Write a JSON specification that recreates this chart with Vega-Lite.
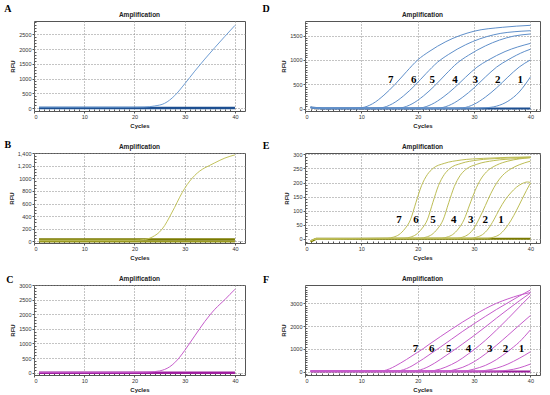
{
  "$schema": "https://vega.github.io/schema/vega-lite/v6.json",
  "background": "white",
  "padding": {"left": 3, "top": 3, "right": 4, "bottom": 1},
  "bounds": "flush",
  "columns": 2,
  "spacing": {"row": 42, "column": 60},
  "concat": [
    {
      "width": 211, "height": 90,
      "title": {"text": "Amplification", "offset": -14.5},
      "data": {"name": "A"},
      "resolve": {"axis": {"x": "independent", "y": "independent"}},
      "layer": [
        {"transform": [{"filter": "datum.curve === 'b'"}], "mark": {"type": "line", "color": "#1d4f91", "strokeWidth": 2.5},
         "encoding": {
           "x": {"field": "cycle", "type": "quantitative", "scale": {"domain": [0, 42], "nice": false, "zero": false}, "axis": {"values": [0, 10, 20, 30, 40], "title": "Cycles"}},
           "y": {"field": "rfu", "type": "quantitative", "scale": {"domain": [-100, 2950], "nice": false, "zero": false}, "axis": {"values": [0, 500, 1000, 1500, 2000, 2500], "title": "RFU", "format": "d"}},
           "detail": {"field": "curve"}}},
        {"transform": [{"filter": "datum.curve !== 'b'"}], "mark": {"type": "line", "interpolate": "monotone", "color": "#6f9dd3", "strokeWidth": 1},
         "encoding": {
           "x": {"field": "cycle", "type": "quantitative", "scale": {"domain": [0, 42], "nice": false, "zero": false}, "axis": null},
           "y": {"field": "rfu", "type": "quantitative", "scale": {"domain": [-100, 2950], "nice": false, "zero": false}, "axis": null},
           "detail": {"field": "curve"}}},
        {"data": {"name": "letters"}, "transform": [{"filter": "datum.panel === 'A'"}], "mark": {"type": "text", "font": "Liberation Serif", "fontWeight": "bold", "fontSize": 10, "color": "black"},
         "encoding": {
           "x": {"field": "cycle", "type": "quantitative", "scale": {"domain": [0, 42], "nice": false, "zero": false}, "axis": null},
           "y": {"field": "rfu", "type": "quantitative", "scale": {"domain": [-100, 2950], "nice": false, "zero": false}, "axis": null},
           "text": {"field": "panel"}}},
        {"transform": [{"filter": "datum.curve === 'b'"}], "mark": {"type": "line", "strokeOpacity": 0},
         "encoding": {
           "x": {"field": "cycle", "type": "quantitative", "scale": {"domain": [0, 42], "nice": false, "zero": false}, "axis": {"orient": "bottom", "values": [1,2,3,4,5,6,7,8,9,11,12,13,14,15,16,17,18,19,21,22,23,24,25,26,27,28,29,31,32,33,34,35,36,37,38,39,41], "labels": false, "grid": false, "tickSize": -2, "title": null}},
           "y": {"field": "rfu", "type": "quantitative", "scale": {"domain": [-100, 2950], "nice": false, "zero": false}, "axis": {"orient": "left", "values": [100,200,300,400,600,700,800,900,1100,1200,1300,1400,1600,1700,1800,1900,2100,2200,2300,2400,2600,2700,2800,2900], "labels": false, "grid": false, "tickSize": -2, "title": null}}}}
      ]
    },
    {
      "width": 235, "height": 90,
      "title": {"text": "Amplification", "offset": -14.5},
      "data": {"name": "D"},
      "resolve": {"axis": {"x": "independent", "y": "independent"}},
      "layer": [
        {"transform": [{"filter": "datum.curve === 'b'"}], "mark": {"type": "line", "color": "#1d4f91", "strokeWidth": 2},
         "encoding": {
           "x": {"field": "cycle", "type": "quantitative", "scale": {"domain": [0, 41.7], "nice": false, "zero": false}, "axis": {"values": [0, 10, 20, 30, 40], "title": "Cycles"}},
           "y": {"field": "rfu", "type": "quantitative", "scale": {"domain": [-50, 1800], "nice": false, "zero": false}, "axis": {"values": [0, 500, 1000, 1500], "title": "RFU", "format": "d"}},
           "detail": {"field": "curve"}}},
        {"transform": [{"filter": "datum.curve !== 'b'"}], "mark": {"type": "line", "interpolate": "monotone", "color": "#5f8fca", "strokeWidth": 1},
         "encoding": {
           "x": {"field": "cycle", "type": "quantitative", "scale": {"domain": [0, 41.7], "nice": false, "zero": false}, "axis": null},
           "y": {"field": "rfu", "type": "quantitative", "scale": {"domain": [-50, 1800], "nice": false, "zero": false}, "axis": null},
           "detail": {"field": "curve"}}},
        {"data": {"name": "labD"}, "mark": {"type": "text", "font": "Liberation Serif", "fontWeight": "bold", "fontSize": 11, "color": "black"},
         "encoding": {
           "x": {"field": "cycle", "type": "quantitative", "scale": {"domain": [0, 41.7], "nice": false, "zero": false}, "axis": null},
           "y": {"field": "rfu", "type": "quantitative", "scale": {"domain": [-50, 1800], "nice": false, "zero": false}, "axis": null},
           "text": {"field": "label"}}},
        {"data": {"name": "letters"}, "transform": [{"filter": "datum.panel === 'D'"}], "mark": {"type": "text", "font": "Liberation Serif", "fontWeight": "bold", "fontSize": 10, "color": "black"},
         "encoding": {
           "x": {"field": "cycle", "type": "quantitative", "scale": {"domain": [0, 41.7], "nice": false, "zero": false}, "axis": null},
           "y": {"field": "rfu", "type": "quantitative", "scale": {"domain": [-50, 1800], "nice": false, "zero": false}, "axis": null},
           "text": {"field": "panel"}}},
        {"transform": [{"filter": "datum.curve === 'b'"}], "mark": {"type": "line", "strokeOpacity": 0},
         "encoding": {
           "x": {"field": "cycle", "type": "quantitative", "scale": {"domain": [0, 41.7], "nice": false, "zero": false}, "axis": {"orient": "bottom", "values": [1,2,3,4,5,6,7,8,9,11,12,13,14,15,16,17,18,19,21,22,23,24,25,26,27,28,29,31,32,33,34,35,36,37,38,39,41], "labels": false, "grid": false, "tickSize": -2, "title": null}},
           "y": {"field": "rfu", "type": "quantitative", "scale": {"domain": [-50, 1800], "nice": false, "zero": false}, "axis": {"orient": "left", "values": [50,100,150,200,250,300,350,400,450,550,600,650,700,750,800,850,900,950,1050,1100,1150,1200,1250,1300,1350,1400,1450,1550,1600,1650,1700,1750], "labels": false, "grid": false, "tickSize": -2, "title": null}}}}
      ]
    },
    {
      "width": 211, "height": 90,
      "title": {"text": "Amplification", "offset": -10.5},
      "data": {"name": "B"},
      "resolve": {"axis": {"x": "independent", "y": "independent"}},
      "layer": [
        {"transform": [{"filter": "datum.curve === 'b2'"}], "mark": {"type": "line", "color": "#9a9a20", "strokeWidth": 1.5},
         "encoding": {
           "x": {"field": "cycle", "type": "quantitative", "scale": {"domain": [0, 42], "nice": false, "zero": false}, "axis": {"values": [0, 10, 20, 30, 40], "title": "Cycles"}},
           "y": {"field": "rfu", "type": "quantitative", "scale": {"domain": [-25, 1400], "nice": false, "zero": false}, "axis": {"values": [0, 200, 400, 600, 800, 1000, 1200, 1400], "title": "RFU", "labelExpr": "datum.value > 1000 ? format(datum.value, ',') : format(datum.value, 'd')"}},
           "detail": {"field": "curve"}}},
        {"transform": [{"filter": "datum.curve === 'b'"}], "mark": {"type": "line", "color": "#7a7a00", "strokeWidth": 2.5},
         "encoding": {
           "x": {"field": "cycle", "type": "quantitative", "scale": {"domain": [0, 42], "nice": false, "zero": false}, "axis": null},
           "y": {"field": "rfu", "type": "quantitative", "scale": {"domain": [-25, 1400], "nice": false, "zero": false}, "axis": null},
           "detail": {"field": "curve"}}},
        {"transform": [{"filter": "datum.curve !== 'b' && datum.curve !== 'b2'"}], "mark": {"type": "line", "interpolate": "monotone", "color": "#c2c25c", "strokeWidth": 1},
         "encoding": {
           "x": {"field": "cycle", "type": "quantitative", "scale": {"domain": [0, 42], "nice": false, "zero": false}, "axis": null},
           "y": {"field": "rfu", "type": "quantitative", "scale": {"domain": [-25, 1400], "nice": false, "zero": false}, "axis": null},
           "detail": {"field": "curve"}}},
        {"data": {"name": "letters"}, "transform": [{"filter": "datum.panel === 'B'"}], "mark": {"type": "text", "font": "Liberation Serif", "fontWeight": "bold", "fontSize": 10, "color": "black"},
         "encoding": {
           "x": {"field": "cycle", "type": "quantitative", "scale": {"domain": [0, 42], "nice": false, "zero": false}, "axis": null},
           "y": {"field": "rfu", "type": "quantitative", "scale": {"domain": [-25, 1400], "nice": false, "zero": false}, "axis": null},
           "text": {"field": "panel"}}},
        {"transform": [{"filter": "datum.curve === 'b'"}], "mark": {"type": "line", "strokeOpacity": 0},
         "encoding": {
           "x": {"field": "cycle", "type": "quantitative", "scale": {"domain": [0, 42], "nice": false, "zero": false}, "axis": {"orient": "bottom", "values": [1,2,3,4,5,6,7,8,9,11,12,13,14,15,16,17,18,19,21,22,23,24,25,26,27,28,29,31,32,33,34,35,36,37,38,39,41], "labels": false, "grid": false, "tickSize": -2, "title": null}},
           "y": {"field": "rfu", "type": "quantitative", "scale": {"domain": [-25, 1400], "nice": false, "zero": false}, "axis": {"orient": "left", "values": [50,100,150,250,300,350,450,500,550,650,700,750,850,900,950,1050,1100,1150,1250,1300,1350], "labels": false, "grid": false, "tickSize": -2, "title": null}}}}
      ]
    },
    {
      "width": 235, "height": 90,
      "title": {"text": "Amplification", "offset": -9.5},
      "data": {"name": "E"},
      "resolve": {"axis": {"x": "independent", "y": "independent"}},
      "layer": [
        {"transform": [{"filter": "datum.curve === 'b'"}], "mark": {"type": "line", "color": "#7a7a00", "strokeWidth": 2},
         "encoding": {
           "x": {"field": "cycle", "type": "quantitative", "scale": {"domain": [0, 41.7], "nice": false, "zero": false}, "axis": {"values": [0, 10, 20, 30, 40], "title": "Cycles"}},
           "y": {"field": "rfu", "type": "quantitative", "scale": {"domain": [-15, 305], "nice": false, "zero": false}, "axis": {"values": [0, 50, 100, 150, 200, 250, 300], "title": "RFU", "format": "d"}},
           "detail": {"field": "curve"}}},
        {"transform": [{"filter": "datum.curve !== 'b'"}], "mark": {"type": "line", "interpolate": "monotone", "color": "#bdbd55", "strokeWidth": 1},
         "encoding": {
           "x": {"field": "cycle", "type": "quantitative", "scale": {"domain": [0, 41.7], "nice": false, "zero": false}, "axis": null},
           "y": {"field": "rfu", "type": "quantitative", "scale": {"domain": [-15, 305], "nice": false, "zero": false}, "axis": null},
           "detail": {"field": "curve"}}},
        {"data": {"name": "labE"}, "mark": {"type": "text", "font": "Liberation Serif", "fontWeight": "bold", "fontSize": 11, "color": "black"},
         "encoding": {
           "x": {"field": "cycle", "type": "quantitative", "scale": {"domain": [0, 41.7], "nice": false, "zero": false}, "axis": null},
           "y": {"field": "rfu", "type": "quantitative", "scale": {"domain": [-15, 305], "nice": false, "zero": false}, "axis": null},
           "text": {"field": "label"}}},
        {"data": {"name": "letters"}, "transform": [{"filter": "datum.panel === 'E'"}], "mark": {"type": "text", "font": "Liberation Serif", "fontWeight": "bold", "fontSize": 10, "color": "black"},
         "encoding": {
           "x": {"field": "cycle", "type": "quantitative", "scale": {"domain": [0, 41.7], "nice": false, "zero": false}, "axis": null},
           "y": {"field": "rfu", "type": "quantitative", "scale": {"domain": [-15, 305], "nice": false, "zero": false}, "axis": null},
           "text": {"field": "panel"}}},
        {"transform": [{"filter": "datum.curve === 'b'"}], "mark": {"type": "line", "strokeOpacity": 0},
         "encoding": {
           "x": {"field": "cycle", "type": "quantitative", "scale": {"domain": [0, 41.7], "nice": false, "zero": false}, "axis": {"orient": "bottom", "values": [1,2,3,4,5,6,7,8,9,11,12,13,14,15,16,17,18,19,21,22,23,24,25,26,27,28,29,31,32,33,34,35,36,37,38,39,41], "labels": false, "grid": false, "tickSize": -2, "title": null}},
           "y": {"field": "rfu", "type": "quantitative", "scale": {"domain": [-15, 305], "nice": false, "zero": false}, "axis": {"orient": "left", "values": [-10,10,20,30,40,60,70,80,90,110,120,130,140,160,170,180,190,210,220,230,240,260,270,280,290], "labels": false, "grid": false, "tickSize": -2, "title": null}}}}
      ]
    },
    {
      "width": 211, "height": 90,
      "title": {"text": "Amplification", "offset": -7.5},
      "data": {"name": "C"},
      "resolve": {"axis": {"x": "independent", "y": "independent"}},
      "layer": [
        {"transform": [{"filter": "datum.curve === 'b'"}], "mark": {"type": "line", "color": "#a020a0", "strokeWidth": 2.5},
         "encoding": {
           "x": {"field": "cycle", "type": "quantitative", "scale": {"domain": [0, 42], "nice": false, "zero": false}, "axis": {"values": [0, 10, 20, 30, 40], "title": "Cycles"}},
           "y": {"field": "rfu", "type": "quantitative", "scale": {"domain": [-80, 3000], "nice": false, "zero": false}, "axis": {"values": [0, 500, 1000, 1500, 2000, 2500, 3000], "title": "RFU", "format": "d"}},
           "detail": {"field": "curve"}}},
        {"transform": [{"filter": "datum.curve !== 'b'"}], "mark": {"type": "line", "interpolate": "monotone", "color": "#c65ccb", "strokeWidth": 1},
         "encoding": {
           "x": {"field": "cycle", "type": "quantitative", "scale": {"domain": [0, 42], "nice": false, "zero": false}, "axis": null},
           "y": {"field": "rfu", "type": "quantitative", "scale": {"domain": [-80, 3000], "nice": false, "zero": false}, "axis": null},
           "detail": {"field": "curve"}}},
        {"data": {"name": "letters"}, "transform": [{"filter": "datum.panel === 'C'"}], "mark": {"type": "text", "font": "Liberation Serif", "fontWeight": "bold", "fontSize": 10, "color": "black"},
         "encoding": {
           "x": {"field": "cycle", "type": "quantitative", "scale": {"domain": [0, 42], "nice": false, "zero": false}, "axis": null},
           "y": {"field": "rfu", "type": "quantitative", "scale": {"domain": [-80, 3000], "nice": false, "zero": false}, "axis": null},
           "text": {"field": "panel"}}},
        {"transform": [{"filter": "datum.curve === 'b'"}], "mark": {"type": "line", "strokeOpacity": 0},
         "encoding": {
           "x": {"field": "cycle", "type": "quantitative", "scale": {"domain": [0, 42], "nice": false, "zero": false}, "axis": {"orient": "bottom", "values": [1,2,3,4,5,6,7,8,9,11,12,13,14,15,16,17,18,19,21,22,23,24,25,26,27,28,29,31,32,33,34,35,36,37,38,39,41], "labels": false, "grid": false, "tickSize": -2, "title": null}},
           "y": {"field": "rfu", "type": "quantitative", "scale": {"domain": [-80, 3000], "nice": false, "zero": false}, "axis": {"orient": "left", "values": [100,200,300,400,600,700,800,900,1100,1200,1300,1400,1600,1700,1800,1900,2100,2200,2300,2400,2600,2700,2800,2900], "labels": false, "grid": false, "tickSize": -2, "title": null}}}}
      ]
    },
    {
      "width": 235, "height": 90,
      "title": {"text": "Amplification", "offset": -7.5},
      "data": {"name": "F"},
      "resolve": {"axis": {"x": "independent", "y": "independent"}},
      "layer": [
        {"transform": [{"filter": "datum.curve === 'b'"}], "mark": {"type": "line", "color": "#9a1e9a", "strokeWidth": 2},
         "encoding": {
           "x": {"field": "cycle", "type": "quantitative", "scale": {"domain": [0, 41.7], "nice": false, "zero": false}, "axis": {"values": [0, 10, 20, 30, 40], "title": "Cycles"}},
           "y": {"field": "rfu", "type": "quantitative", "scale": {"domain": [-150, 3800], "nice": false, "zero": false}, "axis": {"values": [0, 1000, 2000, 3000], "title": "RFU", "format": "d"}},
           "detail": {"field": "curve"}}},
        {"transform": [{"filter": "datum.curve !== 'b'"}], "mark": {"type": "line", "interpolate": "monotone", "color": "#c65ccb", "strokeWidth": 1},
         "encoding": {
           "x": {"field": "cycle", "type": "quantitative", "scale": {"domain": [0, 41.7], "nice": false, "zero": false}, "axis": null},
           "y": {"field": "rfu", "type": "quantitative", "scale": {"domain": [-150, 3800], "nice": false, "zero": false}, "axis": null},
           "detail": {"field": "curve"}}},
        {"data": {"name": "labF"}, "mark": {"type": "text", "font": "Liberation Serif", "fontWeight": "bold", "fontSize": 11, "color": "black"},
         "encoding": {
           "x": {"field": "cycle", "type": "quantitative", "scale": {"domain": [0, 41.7], "nice": false, "zero": false}, "axis": null},
           "y": {"field": "rfu", "type": "quantitative", "scale": {"domain": [-150, 3800], "nice": false, "zero": false}, "axis": null},
           "text": {"field": "label"}}},
        {"data": {"name": "letters"}, "transform": [{"filter": "datum.panel === 'F'"}], "mark": {"type": "text", "font": "Liberation Serif", "fontWeight": "bold", "fontSize": 10, "color": "black"},
         "encoding": {
           "x": {"field": "cycle", "type": "quantitative", "scale": {"domain": [0, 41.7], "nice": false, "zero": false}, "axis": null},
           "y": {"field": "rfu", "type": "quantitative", "scale": {"domain": [-150, 3800], "nice": false, "zero": false}, "axis": null},
           "text": {"field": "panel"}}},
        {"transform": [{"filter": "datum.curve === 'b'"}], "mark": {"type": "line", "strokeOpacity": 0},
         "encoding": {
           "x": {"field": "cycle", "type": "quantitative", "scale": {"domain": [0, 41.7], "nice": false, "zero": false}, "axis": {"orient": "bottom", "values": [1,2,3,4,5,6,7,8,9,11,12,13,14,15,16,17,18,19,21,22,23,24,25,26,27,28,29,31,32,33,34,35,36,37,38,39,41], "labels": false, "grid": false, "tickSize": -2, "title": null}},
           "y": {"field": "rfu", "type": "quantitative", "scale": {"domain": [-150, 3800], "nice": false, "zero": false}, "axis": {"orient": "left", "values": [-100,100,200,300,400,500,600,700,800,900,1100,1200,1300,1400,1500,1600,1700,1800,1900,2100,2200,2300,2400,2500,2600,2700,2800,2900,3100,3200,3300,3400,3500,3600,3700], "labels": false, "grid": false, "tickSize": -2, "title": null}}}}
      ]
    }
  ],
  "datasets": {
    "letters": [
      {"panel": "A", "cycle": -5.2, "rfu": 3357},
      {"panel": "B", "cycle": -5.2, "rfu": 1528},
      {"panel": "C", "cycle": -4.8, "rfu": 3170},
      {"panel": "D", "cycle": -6.9, "rfu": 2047},
      {"panel": "E", "cycle": -6.9, "rfu": 330},
      {"panel": "F", "cycle": -6.9, "rfu": 4017}
    ],
    "A": [
      {"curve": "b", "cycle": 1, "rfu": 0}, {"curve": "b", "cycle": 40, "rfu": 0},
      {"curve": "1", "cycle": 1, "rfu": 30}, {"curve": "1", "cycle": 10, "rfu": 30}, {"curve": "1", "cycle": 20, "rfu": 30}, {"curve": "1", "cycle": 22, "rfu": 35}, {"curve": "1", "cycle": 24, "rfu": 70}, {"curve": "1", "cycle": 26, "rfu": 160}, {"curve": "1", "cycle": 28, "rfu": 420}, {"curve": "1", "cycle": 30, "rfu": 820}, {"curve": "1", "cycle": 32, "rfu": 1250}, {"curve": "1", "cycle": 34, "rfu": 1660}, {"curve": "1", "cycle": 36, "rfu": 2050}, {"curve": "1", "cycle": 38, "rfu": 2430}, {"curve": "1", "cycle": 40, "rfu": 2800}
    ],
    "B": [
      {"curve": "b", "cycle": 1, "rfu": 30}, {"curve": "b", "cycle": 40, "rfu": 30},
      {"curve": "b2", "cycle": 1, "rfu": -5}, {"curve": "b2", "cycle": 40, "rfu": -5},
      {"curve": "1", "cycle": 1, "rfu": 20}, {"curve": "1", "cycle": 20, "rfu": 20}, {"curve": "1", "cycle": 22, "rfu": 30}, {"curve": "1", "cycle": 23, "rfu": 50}, {"curve": "1", "cycle": 24, "rfu": 90}, {"curve": "1", "cycle": 25, "rfu": 150}, {"curve": "1", "cycle": 26, "rfu": 250}, {"curve": "1", "cycle": 27, "rfu": 390}, {"curve": "1", "cycle": 28, "rfu": 540}, {"curve": "1", "cycle": 29, "rfu": 700}, {"curve": "1", "cycle": 30, "rfu": 840}, {"curve": "1", "cycle": 31, "rfu": 955}, {"curve": "1", "cycle": 32, "rfu": 1045}, {"curve": "1", "cycle": 33, "rfu": 1115}, {"curve": "1", "cycle": 34, "rfu": 1165}, {"curve": "1", "cycle": 35, "rfu": 1205}, {"curve": "1", "cycle": 36, "rfu": 1245}, {"curve": "1", "cycle": 38, "rfu": 1320}, {"curve": "1", "cycle": 40, "rfu": 1370}
    ],
    "C": [
      {"curve": "b", "cycle": 1, "rfu": 0}, {"curve": "b", "cycle": 40, "rfu": 0},
      {"curve": "1", "cycle": 1, "rfu": 10}, {"curve": "1", "cycle": 20, "rfu": 10}, {"curve": "1", "cycle": 22, "rfu": 15}, {"curve": "1", "cycle": 24, "rfu": 35}, {"curve": "1", "cycle": 25, "rfu": 60}, {"curve": "1", "cycle": 26, "rfu": 110}, {"curve": "1", "cycle": 27, "rfu": 200}, {"curve": "1", "cycle": 28, "rfu": 340}, {"curve": "1", "cycle": 29, "rfu": 530}, {"curve": "1", "cycle": 30, "rfu": 760}, {"curve": "1", "cycle": 31, "rfu": 1010}, {"curve": "1", "cycle": 32, "rfu": 1260}, {"curve": "1", "cycle": 33, "rfu": 1510}, {"curve": "1", "cycle": 34, "rfu": 1750}, {"curve": "1", "cycle": 35, "rfu": 1970}, {"curve": "1", "cycle": 36, "rfu": 2170}, {"curve": "1", "cycle": 37, "rfu": 2340}, {"curve": "1", "cycle": 38, "rfu": 2500}, {"curve": "1", "cycle": 39, "rfu": 2680}, {"curve": "1", "cycle": 40, "rfu": 2850}
    ],
    "D": [
      {"curve": "b", "cycle": 1, "rfu": 20}, {"curve": "b", "cycle": 3, "rfu": 0}, {"curve": "b", "cycle": 40, "rfu": 0},
      {"curve": "7", "cycle": 1, "rfu": 25}, {"curve": "7", "cycle": 3, "rfu": 5}, {"curve": "7", "cycle": 8, "rfu": 5}, {"curve": "7", "cycle": 10, "rfu": 17}, {"curve": "7", "cycle": 12, "rfu": 100}, {"curve": "7", "cycle": 14, "rfu": 275}, {"curve": "7", "cycle": 16, "rfu": 500}, {"curve": "7", "cycle": 18, "rfu": 757}, {"curve": "7", "cycle": 20, "rfu": 1000}, {"curve": "7", "cycle": 22, "rfu": 1170}, {"curve": "7", "cycle": 25, "rfu": 1376}, {"curve": "7", "cycle": 30, "rfu": 1590}, {"curve": "7", "cycle": 35, "rfu": 1670}, {"curve": "7", "cycle": 40, "rfu": 1711},
      {"curve": "6", "cycle": 1, "rfu": 25}, {"curve": "6", "cycle": 3, "rfu": 5}, {"curve": "6", "cycle": 11.5, "rfu": 5}, {"curve": "6", "cycle": 13.5, "rfu": 16}, {"curve": "6", "cycle": 15.5, "rfu": 98}, {"curve": "6", "cycle": 17.5, "rfu": 262}, {"curve": "6", "cycle": 19.5, "rfu": 476}, {"curve": "6", "cycle": 21.5, "rfu": 722}, {"curve": "6", "cycle": 23.5, "rfu": 951}, {"curve": "6", "cycle": 25.5, "rfu": 1115}, {"curve": "6", "cycle": 28.5, "rfu": 1312}, {"curve": "6", "cycle": 33.5, "rfu": 1517}, {"curve": "6", "cycle": 38.5, "rfu": 1591}, {"curve": "6", "cycle": 40, "rfu": 1600},
      {"curve": "5", "cycle": 1, "rfu": 25}, {"curve": "5", "cycle": 3, "rfu": 5}, {"curve": "5", "cycle": 15, "rfu": 5}, {"curve": "5", "cycle": 17, "rfu": 16}, {"curve": "5", "cycle": 19, "rfu": 97}, {"curve": "5", "cycle": 21, "rfu": 258}, {"curve": "5", "cycle": 23, "rfu": 467}, {"curve": "5", "cycle": 25, "rfu": 708}, {"curve": "5", "cycle": 27, "rfu": 934}, {"curve": "5", "cycle": 29, "rfu": 1095}, {"curve": "5", "cycle": 32, "rfu": 1288}, {"curve": "5", "cycle": 37, "rfu": 1489}, {"curve": "5", "cycle": 40, "rfu": 1533},
      {"curve": "4", "cycle": 1, "rfu": 25}, {"curve": "4", "cycle": 3, "rfu": 5}, {"curve": "4", "cycle": 18.5, "rfu": 5}, {"curve": "4", "cycle": 20.5, "rfu": 15}, {"curve": "4", "cycle": 22.5, "rfu": 88}, {"curve": "4", "cycle": 24.5, "rfu": 234}, {"curve": "4", "cycle": 26.5, "rfu": 425}, {"curve": "4", "cycle": 28.5, "rfu": 645}, {"curve": "4", "cycle": 30.5, "rfu": 850}, {"curve": "4", "cycle": 32.5, "rfu": 996}, {"curve": "4", "cycle": 35.5, "rfu": 1172}, {"curve": "4", "cycle": 40, "rfu": 1340},
      {"curve": "3", "cycle": 1, "rfu": 25}, {"curve": "3", "cycle": 3, "rfu": 5}, {"curve": "3", "cycle": 22, "rfu": 5}, {"curve": "3", "cycle": 24, "rfu": 15}, {"curve": "3", "cycle": 26, "rfu": 88}, {"curve": "3", "cycle": 28, "rfu": 235}, {"curve": "3", "cycle": 30, "rfu": 426}, {"curve": "3", "cycle": 32, "rfu": 647}, {"curve": "3", "cycle": 34, "rfu": 853}, {"curve": "3", "cycle": 36, "rfu": 1000}, {"curve": "3", "cycle": 39, "rfu": 1176}, {"curve": "3", "cycle": 40, "rfu": 1220},
      {"curve": "2", "cycle": 1, "rfu": 25}, {"curve": "2", "cycle": 3, "rfu": 5}, {"curve": "2", "cycle": 26, "rfu": 5}, {"curve": "2", "cycle": 28, "rfu": 15}, {"curve": "2", "cycle": 30, "rfu": 88}, {"curve": "2", "cycle": 32, "rfu": 235}, {"curve": "2", "cycle": 34, "rfu": 426}, {"curve": "2", "cycle": 36, "rfu": 647}, {"curve": "2", "cycle": 38, "rfu": 853}, {"curve": "2", "cycle": 40, "rfu": 1000},
      {"curve": "1", "cycle": 1, "rfu": 25}, {"curve": "1", "cycle": 3, "rfu": 5}, {"curve": "1", "cycle": 30, "rfu": 5}, {"curve": "1", "cycle": 32, "rfu": 15}, {"curve": "1", "cycle": 34, "rfu": 50}, {"curve": "1", "cycle": 36, "rfu": 150}, {"curve": "1", "cycle": 38, "rfu": 340}, {"curve": "1", "cycle": 40, "rfu": 650}
    ],
    "E": [
      {"curve": "b", "cycle": 1, "rfu": -10}, {"curve": "b", "cycle": 2, "rfu": 0}, {"curve": "b", "cycle": 40, "rfu": 0},
      {"curve": "7", "cycle": 1, "rfu": -8}, {"curve": "7", "cycle": 2, "rfu": 0}, {"curve": "7", "cycle": 14.7, "rfu": 2}, {"curve": "7", "cycle": 15.7, "rfu": 6}, {"curve": "7", "cycle": 16.7, "rfu": 15}, {"curve": "7", "cycle": 17.7, "rfu": 35}, {"curve": "7", "cycle": 18.7, "rfu": 67}, {"curve": "7", "cycle": 19.7, "rfu": 130}, {"curve": "7", "cycle": 20.7, "rfu": 190}, {"curve": "7", "cycle": 21.7, "rfu": 228}, {"curve": "7", "cycle": 22.7, "rfu": 250}, {"curve": "7", "cycle": 24.7, "rfu": 268}, {"curve": "7", "cycle": 27.7, "rfu": 280}, {"curve": "7", "cycle": 31.7, "rfu": 286}, {"curve": "7", "cycle": 40, "rfu": 291},
      {"curve": "6", "cycle": 1, "rfu": -8}, {"curve": "6", "cycle": 2, "rfu": 0}, {"curve": "6", "cycle": 17.7, "rfu": 2}, {"curve": "6", "cycle": 18.7, "rfu": 6}, {"curve": "6", "cycle": 19.7, "rfu": 15}, {"curve": "6", "cycle": 20.7, "rfu": 35}, {"curve": "6", "cycle": 21.7, "rfu": 67}, {"curve": "6", "cycle": 22.7, "rfu": 130}, {"curve": "6", "cycle": 23.7, "rfu": 190}, {"curve": "6", "cycle": 24.7, "rfu": 228}, {"curve": "6", "cycle": 25.7, "rfu": 250}, {"curve": "6", "cycle": 27.7, "rfu": 268}, {"curve": "6", "cycle": 30.7, "rfu": 280}, {"curve": "6", "cycle": 34.7, "rfu": 286}, {"curve": "6", "cycle": 40, "rfu": 290},
      {"curve": "5", "cycle": 1, "rfu": -8}, {"curve": "5", "cycle": 2, "rfu": 0}, {"curve": "5", "cycle": 20.5, "rfu": 2}, {"curve": "5", "cycle": 21.5, "rfu": 6}, {"curve": "5", "cycle": 22.5, "rfu": 15}, {"curve": "5", "cycle": 23.5, "rfu": 35}, {"curve": "5", "cycle": 24.5, "rfu": 67}, {"curve": "5", "cycle": 25.5, "rfu": 128}, {"curve": "5", "cycle": 26.5, "rfu": 186}, {"curve": "5", "cycle": 27.5, "rfu": 224}, {"curve": "5", "cycle": 28.5, "rfu": 246}, {"curve": "5", "cycle": 30.5, "rfu": 265}, {"curve": "5", "cycle": 33.5, "rfu": 278}, {"curve": "5", "cycle": 37.5, "rfu": 285}, {"curve": "5", "cycle": 40, "rfu": 289},
      {"curve": "4", "cycle": 1, "rfu": -8}, {"curve": "4", "cycle": 2, "rfu": 0}, {"curve": "4", "cycle": 24.2, "rfu": 2}, {"curve": "4", "cycle": 25.2, "rfu": 6}, {"curve": "4", "cycle": 26.2, "rfu": 15}, {"curve": "4", "cycle": 27.2, "rfu": 35}, {"curve": "4", "cycle": 28.2, "rfu": 67}, {"curve": "4", "cycle": 29.2, "rfu": 120}, {"curve": "4", "cycle": 30.2, "rfu": 172}, {"curve": "4", "cycle": 31.2, "rfu": 212}, {"curve": "4", "cycle": 32.2, "rfu": 238}, {"curve": "4", "cycle": 34, "rfu": 262}, {"curve": "4", "cycle": 36, "rfu": 276}, {"curve": "4", "cycle": 38, "rfu": 284}, {"curve": "4", "cycle": 40, "rfu": 288},
      {"curve": "3", "cycle": 1, "rfu": -8}, {"curve": "3", "cycle": 2, "rfu": 0}, {"curve": "3", "cycle": 27, "rfu": 2}, {"curve": "3", "cycle": 28, "rfu": 6}, {"curve": "3", "cycle": 29, "rfu": 16}, {"curve": "3", "cycle": 30, "rfu": 38}, {"curve": "3", "cycle": 30.8, "rfu": 67}, {"curve": "3", "cycle": 32, "rfu": 118}, {"curve": "3", "cycle": 33, "rfu": 162}, {"curve": "3", "cycle": 34, "rfu": 198}, {"curve": "3", "cycle": 35, "rfu": 224}, {"curve": "3", "cycle": 36.5, "rfu": 248}, {"curve": "3", "cycle": 38, "rfu": 263}, {"curve": "3", "cycle": 40, "rfu": 276},
      {"curve": "2", "cycle": 1, "rfu": -8}, {"curve": "2", "cycle": 2, "rfu": 0}, {"curve": "2", "cycle": 29.5, "rfu": 2}, {"curve": "2", "cycle": 30.5, "rfu": 6}, {"curve": "2", "cycle": 31.5, "rfu": 15}, {"curve": "2", "cycle": 32.5, "rfu": 35}, {"curve": "2", "cycle": 33.5, "rfu": 67}, {"curve": "2", "cycle": 34.5, "rfu": 105}, {"curve": "2", "cycle": 35.5, "rfu": 138}, {"curve": "2", "cycle": 36.5, "rfu": 163}, {"curve": "2", "cycle": 37.5, "rfu": 183}, {"curve": "2", "cycle": 38.5, "rfu": 196}, {"curve": "2", "cycle": 39.5, "rfu": 202}, {"curve": "2", "cycle": 40, "rfu": 200},
      {"curve": "1", "cycle": 1, "rfu": -8}, {"curve": "1", "cycle": 2, "rfu": 0}, {"curve": "1", "cycle": 32.5, "rfu": 2}, {"curve": "1", "cycle": 33.5, "rfu": 6}, {"curve": "1", "cycle": 34.5, "rfu": 15}, {"curve": "1", "cycle": 35.5, "rfu": 35}, {"curve": "1", "cycle": 36.6, "rfu": 67}, {"curve": "1", "cycle": 37.5, "rfu": 100}, {"curve": "1", "cycle": 38.5, "rfu": 140}, {"curve": "1", "cycle": 39.3, "rfu": 172}, {"curve": "1", "cycle": 40, "rfu": 198}
    ],
    "F": [
      {"curve": "b", "cycle": 1, "rfu": 0}, {"curve": "b", "cycle": 40, "rfu": 0},
      {"curve": "7", "cycle": 1, "rfu": 20}, {"curve": "7", "cycle": 13, "rfu": 20}, {"curve": "7", "cycle": 14, "rfu": 40}, {"curve": "7", "cycle": 15, "rfu": 120}, {"curve": "7", "cycle": 16, "rfu": 240}, {"curve": "7", "cycle": 17, "rfu": 380}, {"curve": "7", "cycle": 18, "rfu": 530}, {"curve": "7", "cycle": 19, "rfu": 690}, {"curve": "7", "cycle": 20, "rfu": 850}, {"curve": "7", "cycle": 21, "rfu": 1010}, {"curve": "7", "cycle": 22, "rfu": 1190}, {"curve": "7", "cycle": 24, "rfu": 1530}, {"curve": "7", "cycle": 26, "rfu": 1860}, {"curve": "7", "cycle": 28, "rfu": 2180}, {"curve": "7", "cycle": 30, "rfu": 2480}, {"curve": "7", "cycle": 32, "rfu": 2760}, {"curve": "7", "cycle": 34, "rfu": 3000}, {"curve": "7", "cycle": 36, "rfu": 3190}, {"curve": "7", "cycle": 38, "rfu": 3350}, {"curve": "7", "cycle": 40, "rfu": 3470},
      {"curve": "6", "cycle": 1, "rfu": 20}, {"curve": "6", "cycle": 16, "rfu": 20}, {"curve": "6", "cycle": 17, "rfu": 50}, {"curve": "6", "cycle": 18, "rfu": 130}, {"curve": "6", "cycle": 19, "rfu": 250}, {"curve": "6", "cycle": 20, "rfu": 400}, {"curve": "6", "cycle": 21, "rfu": 560}, {"curve": "6", "cycle": 22, "rfu": 730}, {"curve": "6", "cycle": 23, "rfu": 900}, {"curve": "6", "cycle": 24, "rfu": 1070}, {"curve": "6", "cycle": 26, "rfu": 1420}, {"curve": "6", "cycle": 28, "rfu": 1770}, {"curve": "6", "cycle": 30, "rfu": 2100}, {"curve": "6", "cycle": 32, "rfu": 2420}, {"curve": "6", "cycle": 34, "rfu": 2730}, {"curve": "6", "cycle": 36, "rfu": 3020}, {"curve": "6", "cycle": 38, "rfu": 3310}, {"curve": "6", "cycle": 40, "rfu": 3580},
      {"curve": "5", "cycle": 1, "rfu": 20}, {"curve": "5", "cycle": 19, "rfu": 20}, {"curve": "5", "cycle": 20, "rfu": 50}, {"curve": "5", "cycle": 21, "rfu": 120}, {"curve": "5", "cycle": 22, "rfu": 230}, {"curve": "5", "cycle": 23, "rfu": 370}, {"curve": "5", "cycle": 24, "rfu": 530}, {"curve": "5", "cycle": 25, "rfu": 700}, {"curve": "5", "cycle": 26, "rfu": 870}, {"curve": "5", "cycle": 27, "rfu": 1040}, {"curve": "5", "cycle": 28, "rfu": 1220}, {"curve": "5", "cycle": 30, "rfu": 1580}, {"curve": "5", "cycle": 32, "rfu": 1960}, {"curve": "5", "cycle": 34, "rfu": 2350}, {"curve": "5", "cycle": 36, "rfu": 2730}, {"curve": "5", "cycle": 38, "rfu": 3100}, {"curve": "5", "cycle": 40, "rfu": 3450},
      {"curve": "4", "cycle": 1, "rfu": 20}, {"curve": "4", "cycle": 22, "rfu": 20}, {"curve": "4", "cycle": 23, "rfu": 50}, {"curve": "4", "cycle": 24, "rfu": 110}, {"curve": "4", "cycle": 25, "rfu": 200}, {"curve": "4", "cycle": 26, "rfu": 310}, {"curve": "4", "cycle": 27, "rfu": 440}, {"curve": "4", "cycle": 28, "rfu": 600}, {"curve": "4", "cycle": 29, "rfu": 780}, {"curve": "4", "cycle": 30, "rfu": 960}, {"curve": "4", "cycle": 31, "rfu": 1160}, {"curve": "4", "cycle": 32, "rfu": 1370}, {"curve": "4", "cycle": 34, "rfu": 1830}, {"curve": "4", "cycle": 36, "rfu": 2320}, {"curve": "4", "cycle": 38, "rfu": 2830}, {"curve": "4", "cycle": 40, "rfu": 3330},
      {"curve": "3", "cycle": 1, "rfu": 20}, {"curve": "3", "cycle": 25, "rfu": 20}, {"curve": "3", "cycle": 26, "rfu": 50}, {"curve": "3", "cycle": 27, "rfu": 110}, {"curve": "3", "cycle": 28, "rfu": 190}, {"curve": "3", "cycle": 29, "rfu": 300}, {"curve": "3", "cycle": 30, "rfu": 430}, {"curve": "3", "cycle": 31, "rfu": 590}, {"curve": "3", "cycle": 32, "rfu": 770}, {"curve": "3", "cycle": 33, "rfu": 960}, {"curve": "3", "cycle": 34, "rfu": 1160}, {"curve": "3", "cycle": 36, "rfu": 1590}, {"curve": "3", "cycle": 38, "rfu": 2030}, {"curve": "3", "cycle": 40, "rfu": 2460},
      {"curve": "2", "cycle": 1, "rfu": 20}, {"curve": "2", "cycle": 28, "rfu": 20}, {"curve": "2", "cycle": 29, "rfu": 50}, {"curve": "2", "cycle": 30, "rfu": 110}, {"curve": "2", "cycle": 31, "rfu": 180}, {"curve": "2", "cycle": 32, "rfu": 270}, {"curve": "2", "cycle": 33, "rfu": 390}, {"curve": "2", "cycle": 34, "rfu": 530}, {"curve": "2", "cycle": 35, "rfu": 700}, {"curve": "2", "cycle": 36, "rfu": 880}, {"curve": "2", "cycle": 37, "rfu": 1080}, {"curve": "2", "cycle": 38, "rfu": 1290}, {"curve": "2", "cycle": 39, "rfu": 1550}, {"curve": "2", "cycle": 40, "rfu": 1830},
      {"curve": "1", "cycle": 1, "rfu": 20}, {"curve": "1", "cycle": 31, "rfu": 20}, {"curve": "1", "cycle": 32, "rfu": 50}, {"curve": "1", "cycle": 33, "rfu": 90}, {"curve": "1", "cycle": 34, "rfu": 150}, {"curve": "1", "cycle": 35, "rfu": 230}, {"curve": "1", "cycle": 36, "rfu": 330}, {"curve": "1", "cycle": 37, "rfu": 450}, {"curve": "1", "cycle": 38, "rfu": 580}, {"curve": "1", "cycle": 39, "rfu": 720}, {"curve": "1", "cycle": 40, "rfu": 870},
      {"curve": "0", "cycle": 1, "rfu": 20}, {"curve": "0", "cycle": 34, "rfu": 20}, {"curve": "0", "cycle": 36, "rfu": 60}, {"curve": "0", "cycle": 38, "rfu": 160}, {"curve": "0", "cycle": 40, "rfu": 330}
    ],
    "labD": [
      {"label": "7", "cycle": 15.2, "rfu": 590}, {"label": "6", "cycle": 19.3, "rfu": 590}, {"label": "5", "cycle": 22.6, "rfu": 590}, {"label": "4", "cycle": 26.6, "rfu": 590}, {"label": "3", "cycle": 30.2, "rfu": 590}, {"label": "2", "cycle": 34.2, "rfu": 590}, {"label": "1", "cycle": 38.2, "rfu": 590}
    ],
    "labE": [
      {"label": "7", "cycle": 16.7, "rfu": 67}, {"label": "6", "cycle": 19.7, "rfu": 67}, {"label": "5", "cycle": 22.7, "rfu": 67}, {"label": "4", "cycle": 26.4, "rfu": 67}, {"label": "3", "cycle": 29.4, "rfu": 67}, {"label": "2", "cycle": 32, "rfu": 67}, {"label": "1", "cycle": 34.8, "rfu": 67}
    ],
    "labF": [
      {"label": "7", "cycle": 19.6, "rfu": 970}, {"label": "6", "cycle": 22.5, "rfu": 970}, {"label": "5", "cycle": 25.5, "rfu": 970}, {"label": "4", "cycle": 29, "rfu": 970}, {"label": "3", "cycle": 32.8, "rfu": 970}, {"label": "2", "cycle": 35.6, "rfu": 970}, {"label": "1", "cycle": 38.4, "rfu": 970}
    ]
  },
  "config": {
    "view": {"stroke": "#555", "strokeWidth": 1},
    "axis": {
      "labelFont": "Liberation Sans", "labelFontSize": 5.5, "labelColor": "#333",
      "titleFont": "Liberation Sans", "titleFontSize": 6, "titleFontWeight": "bold", "titleColor": "#222",
      "grid": true, "gridDash": [1, 2], "gridColor": "#888", "gridOpacity": 1,
      "tickColor": "#555", "tickSize": 2, "labelPadding": 1, "titlePadding": 3, "domain": false
    },
    "title": {"font": "Liberation Sans", "fontSize": 6.5, "fontWeight": "bold", "color": "#222"},
    "text": {"baseline": "middle", "align": "center"}
  }
}
